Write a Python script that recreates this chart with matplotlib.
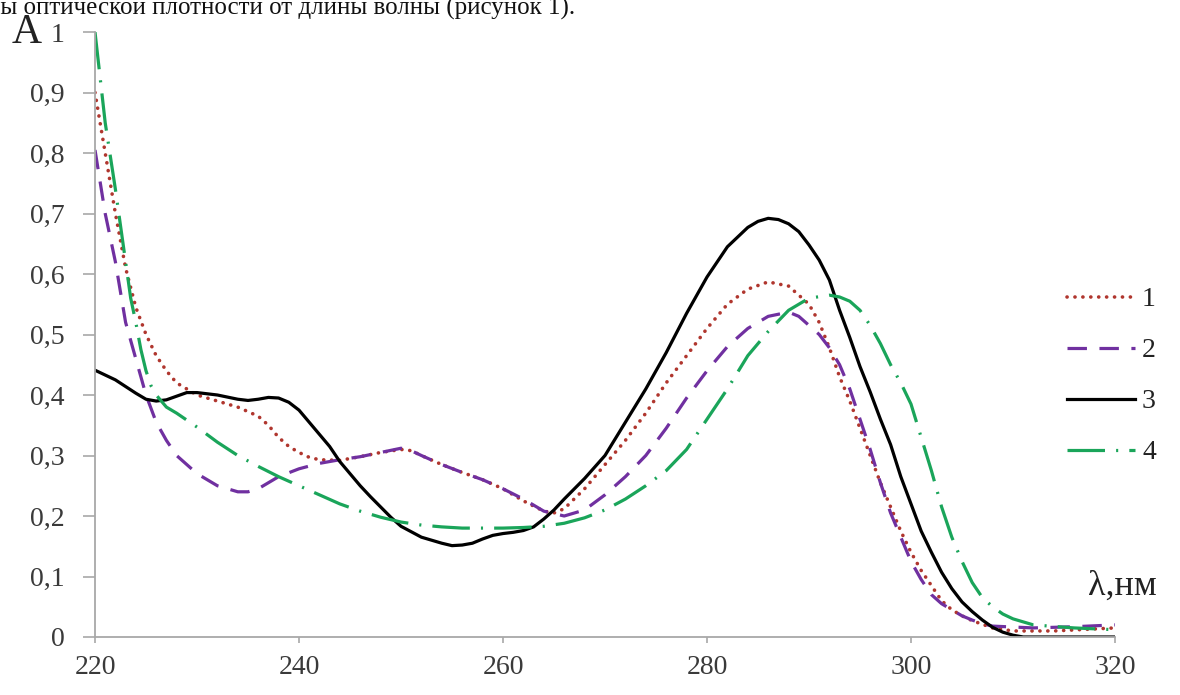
import matplotlib
matplotlib.use("Agg")
import matplotlib.pyplot as plt
from matplotlib.ticker import FixedLocator, FuncFormatter

# ---- data ----
x1 = [220, 221, 222, 223, 224, 225, 226, 227, 228, 230, 232, 234, 236, 237, 238, 239, 240,
      241, 242, 244, 246, 248, 250, 251, 252, 254, 256, 258, 260, 262, 264, 265, 266, 268,
      270, 272, 274, 276, 278, 280, 282, 284, 286, 288, 290, 291, 292, 293, 294, 295, 296,
      297, 298, 299, 300, 301, 302, 303, 304, 305, 306, 308, 310, 314, 320]
y1 = [0.90, 0.80, 0.70, 0.61, 0.545, 0.50, 0.465, 0.44, 0.42, 0.40, 0.39, 0.38, 0.365, 0.35,
      0.33, 0.315, 0.305, 0.297, 0.293, 0.292, 0.298, 0.305, 0.31, 0.308, 0.30, 0.285, 0.272,
      0.26, 0.245, 0.225, 0.208, 0.205, 0.212, 0.245, 0.285, 0.325, 0.37, 0.42, 0.465, 0.51,
      0.55, 0.575, 0.587, 0.58, 0.55, 0.52, 0.478, 0.43, 0.39, 0.345, 0.30, 0.255, 0.215,
      0.175, 0.14, 0.11, 0.085, 0.06, 0.045, 0.035, 0.027, 0.015, 0.01, 0.01, 0.015]

x2 = [220, 221, 222, 223, 224, 225, 226, 227, 228, 230, 232, 234, 235, 236, 237, 238, 240,
      242, 244, 246, 248, 250, 251, 252, 254, 256, 258, 260, 262, 264, 266, 268, 270, 272,
      274, 276, 278, 280, 282, 284, 286, 288, 289, 290, 291, 292, 293, 294, 295, 296, 297,
      298, 299, 300, 301, 302, 303, 304, 305, 306, 307, 308, 312, 316, 320]
y2 = [0.805, 0.70, 0.62, 0.52, 0.46, 0.40, 0.355, 0.325, 0.30, 0.27, 0.25, 0.24, 0.24, 0.245,
      0.255, 0.265, 0.278, 0.287, 0.293, 0.298, 0.305, 0.312, 0.308, 0.30, 0.285, 0.272, 0.26,
      0.245, 0.228, 0.208, 0.20, 0.21, 0.235, 0.265, 0.30, 0.345, 0.395, 0.44, 0.48, 0.51,
      0.53, 0.537, 0.53, 0.515, 0.50, 0.478, 0.45, 0.41, 0.36, 0.31, 0.255, 0.205, 0.165,
      0.125, 0.095, 0.07, 0.055, 0.045, 0.035, 0.028, 0.022, 0.018, 0.015, 0.017, 0.02]

x3 = [220, 222, 224, 225, 226, 227, 228, 229, 230, 232, 234, 235, 236, 237, 238, 239, 240,
      241, 242, 243, 244, 245, 246, 247, 248, 249, 250, 252, 254, 255, 256, 257, 258, 259,
      260, 261, 262, 263, 264, 265, 266, 267, 268, 270, 272, 274, 276, 278, 280, 282, 284,
      285, 286, 287, 288, 289, 290, 291, 292, 293, 294, 295, 296, 297, 298, 299, 300, 301,
      302, 303, 304, 305, 306, 307, 308, 309, 310, 311, 320]
y3 = [0.441, 0.425, 0.403, 0.393, 0.39, 0.392, 0.398, 0.404, 0.404, 0.40, 0.393, 0.391, 0.393,
      0.396, 0.395, 0.388, 0.375, 0.355, 0.335, 0.315, 0.29, 0.27, 0.25, 0.232, 0.215, 0.198,
      0.183, 0.165, 0.155, 0.151, 0.152, 0.155, 0.162, 0.168, 0.171, 0.173, 0.176, 0.182,
      0.195, 0.21, 0.228, 0.245, 0.262, 0.30, 0.355, 0.41, 0.47, 0.535, 0.595, 0.645, 0.677,
      0.687, 0.692, 0.69, 0.683, 0.67, 0.648, 0.623, 0.59, 0.54, 0.495, 0.447, 0.405, 0.36,
      0.318, 0.265, 0.22, 0.175, 0.14, 0.107, 0.08, 0.058, 0.042, 0.028, 0.016, 0.008, 0.003,
      0.0, 0.0]

x4 = [220, 221, 222, 223, 223.5, 224, 224.5, 225, 225.5, 226, 227, 228, 230, 232, 234, 236,
      238, 240, 242, 244, 246, 248, 250, 252, 254, 256, 258, 260, 262, 264, 266, 268, 270,
      272, 274, 276, 278, 280, 282, 284, 286, 288, 290, 292, 293, 294, 295, 296, 297, 298,
      299, 300, 301, 302, 303, 304, 305, 306, 307, 308, 309, 310, 312, 316, 320]
y4 = [1.0, 0.85, 0.74, 0.62, 0.56, 0.52, 0.475, 0.44, 0.415, 0.40, 0.38, 0.37, 0.347, 0.322,
      0.30, 0.282, 0.265, 0.25, 0.235, 0.22, 0.208, 0.198, 0.19, 0.185, 0.182, 0.18, 0.18,
      0.18, 0.181, 0.183, 0.188, 0.197, 0.21, 0.228, 0.25, 0.275, 0.31, 0.36, 0.41, 0.465,
      0.505, 0.54, 0.56, 0.565, 0.562, 0.555, 0.54, 0.515, 0.485, 0.45, 0.42, 0.385, 0.33,
      0.275, 0.215, 0.165, 0.125, 0.09, 0.065, 0.05, 0.038, 0.03, 0.02, 0.015, 0.012]

labels = ["1", "2", "3", "4"]
x_ticks = [220, 240, 260, 280, 300, 320]
y_ticks = [0, 0.1, 0.2, 0.3, 0.4, 0.5, 0.6, 0.7, 0.8, 0.9, 1.0]

# ---- style ----
plt.rcParams["font.family"] = ["Liberation Serif", "DejaVu Serif"]
plt.rcParams["lines.scale_dashes"] = False

fig = plt.figure(figsize=(11.8, 6.95), dpi=100)
ax = fig.add_axes([95 / 1180, 1 - 637 / 695, (1115 - 95) / 1180, (637 - 32) / 695])

lw = 2.3
l1, = ax.plot(x1, y1, color="#B0362E", lw=2.6, dash_capstyle="round")
l1.set_dashes((0.1, 5.6))
l2, = ax.plot(x2, y2, color="#7030A0", lw=lw)
l2.set_dashes((14, 9))
l3, = ax.plot(x3, y3, color="black", lw=lw)
l4, = ax.plot(x4, y4, color="#1AA55A", lw=lw)
l4.set_dashes((27, 8, 1.5, 8))

ax.set_xlim(220, 320)
ax.set_ylim(0, 1)
ax.xaxis.set_major_locator(FixedLocator(x_ticks))
ax.yaxis.set_major_locator(FixedLocator(y_ticks))
ax.yaxis.set_major_formatter(FuncFormatter(
    lambda v, p: ("1" if abs(v - 1) < 1e-9 else ("0" if v == 0 else f"{v:.1f}".replace(".", ",")))))
ax.xaxis.set_major_formatter(FuncFormatter(lambda v, p: f"{int(v)}"))

for s in ["top", "right"]:
    ax.spines[s].set_visible(False)
for s in ["left", "bottom"]:
    ax.spines[s].set_color("#A8A8A8")
    ax.spines[s].set_linewidth(1.3)

ax.tick_params(axis="y", direction="out", length=9, width=1.2, color="#A8A8A8",
               labelsize=20, labelcolor="#3a3a3a", pad=13)
ax.tick_params(axis="x", direction="out", length=4, width=1.2, color="#A8A8A8",
               labelsize=20, labelcolor="#3a3a3a", pad=9)

leg = ax.legend([l1, l2, l3, l4], labels, loc="upper left",
                bbox_to_anchor=(0.953, 0.5785), frameon=False, fontsize=20,
                handlelength=2.45, handletextpad=0.25, labelspacing=0.92,
                borderaxespad=0, borderpad=0)
for t in leg.get_texts():
    t.set_color("#222222")

fig.text(12 / 1180, 1 - 43 / 695, "A", fontsize=30, color="#222222", ha="left",
         va="baseline")
fig.text(1088 / 1180, 1 - 595 / 695, "λ,нм", fontsize=26, color="#222222",
         ha="left", va="baseline")
fig.text(575 / 1180, 1 - 15 / 695, "ны оптической плотности от длины волны (рисунок 1).",
         fontsize=18, color="#111111", ha="right", va="baseline")

fig.savefig("out.png", dpi=100)
